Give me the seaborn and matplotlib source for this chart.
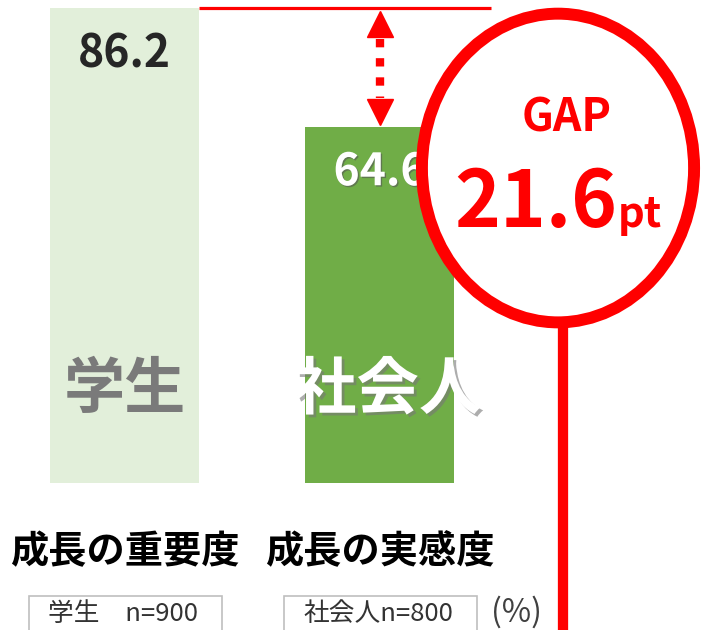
import matplotlib
matplotlib.use("Agg")
import matplotlib.pyplot as plt
import matplotlib.patheffects as pe
from matplotlib.patches import Ellipse, Rectangle
import matplotlib.transforms as mtrans
import seaborn as sns

# data
groups = ["学生", "社会人"]
titles = ["成長の重要度", "成長の実感度"]
sample_labels = ["学生　n=900", "社会人n=800"]
values = [86.2, 64.6]
bar_colors = ["#e2efda", "#70ad47"]

sns.set_theme(style="white")
plt.rcParams['font.family'] = ['Noto Sans CJK JP', 'DejaVu Sans']

fig = plt.figure(figsize=(7.05, 6.3), dpi=100)
ax = fig.add_axes([0, 0, 1, 1])
sns.barplot(x=groups, y=values, hue=groups, palette=bar_colors, width=0.583,
            saturation=1, legend=False, edgecolor="none", ax=ax)
ax.set_xlim(-0.487, 2.272)
ax.set_ylim(-26.68, 87.66)
ax.axis('off')

gap = values[0] - values[1]
red = "#ff0000"

# value labels
ax.text(0, values[0] - 8.4, f"{values[0]:.1f}", ha='center', va='center',
        fontsize=32, fontweight='bold', color="#262626", zorder=3)
ax.text(1, values[1] - 8.2, f"{values[1]:.1f}", ha='center', va='center',
        fontsize=32, fontweight='bold', color="white", zorder=3,
        path_effects=[pe.withSimplePatchShadow(offset=(1, -1), shadow_rgbFace="#555555", alpha=0.6)])

# group names inside bars
ax.text(0, 16.8, groups[0], ha='center', va='center', fontsize=44,
        fontweight='bold', color="#7a7a7a", zorder=3)
ax.text(1.03, 16.8, groups[1], ha='center', va='center', fontsize=45,
        fontweight='bold', color="white", zorder=3,
        path_effects=[pe.withSimplePatchShadow(offset=(2, -2), shadow_rgbFace="#777777", alpha=0.6)])

# reference line at the student value + dotted double arrow
ax.plot([0.29, 1.434], [values[0], values[0]], color=red, lw=2.3, zorder=4,
        solid_capstyle='butt')
ax.plot([1, 1], [values[0] - 5.6, values[1] + 5.3], color=red, lw=6,
        ls=(0, (1, 1.3)), solid_capstyle='butt', zorder=4)
ax.plot(1, values[0] - 2.9, marker='^', ms=19, color=red, mec=red, zorder=4)
ax.plot(1, values[1] + 2.8, marker='v', ms=19, color=red, mec=red, zorder=4)

# gap circle
circle = Ellipse((0.7915, 0.7333), 0.386, 0.49, transform=ax.transAxes,
                 facecolor="white", edgecolor=red, lw=8.6, zorder=5)
ax.add_patch(circle)
ax.plot([0.7986, 0.7986], [0, 0.49], transform=ax.transAxes, color=red,
        lw=7.4, solid_capstyle='butt', zorder=4)
ax.text(0.804, 0.7905, "GAP", transform=ax.transAxes, ha='center', va='baseline',
        fontsize=32, fontweight='bold', color=red, zorder=6)
ax.text(0.876, 0.6397, f"{gap:.1f}", transform=ax.transAxes, ha='right', va='baseline',
        fontsize=56, fontweight='bold', color=red, zorder=6)
ax.text(0.876, 0.6397, "pt", transform=ax.transAxes, ha='left', va='baseline',
        fontsize=30, fontweight='bold', color=red, zorder=6)

# titles and sample boxes below bars
trans = mtrans.blended_transform_factory(ax.transData, ax.transAxes)
for i, (t, s) in enumerate(zip(titles, sample_labels)):
    ax.text(i, 0.124, t, transform=trans, ha='center', va='center',
            fontsize=27.5, fontweight='bold', color="black")
    ax.add_patch(Rectangle((i - 0.374, -0.05), 0.755, 0.104, transform=trans,
                           facecolor="white", edgecolor="#bfbfbf", lw=1.2))
    ax.text(i - 0.005, 0.026, s, transform=trans, ha='center', va='center',
            fontsize=18.5, color="#333333")
ax.text(0.733, 0.028, "(%)", transform=ax.transAxes, ha='center', va='center',
        fontsize=23, color="#404040")

fig.savefig("out.png", dpi=100)
